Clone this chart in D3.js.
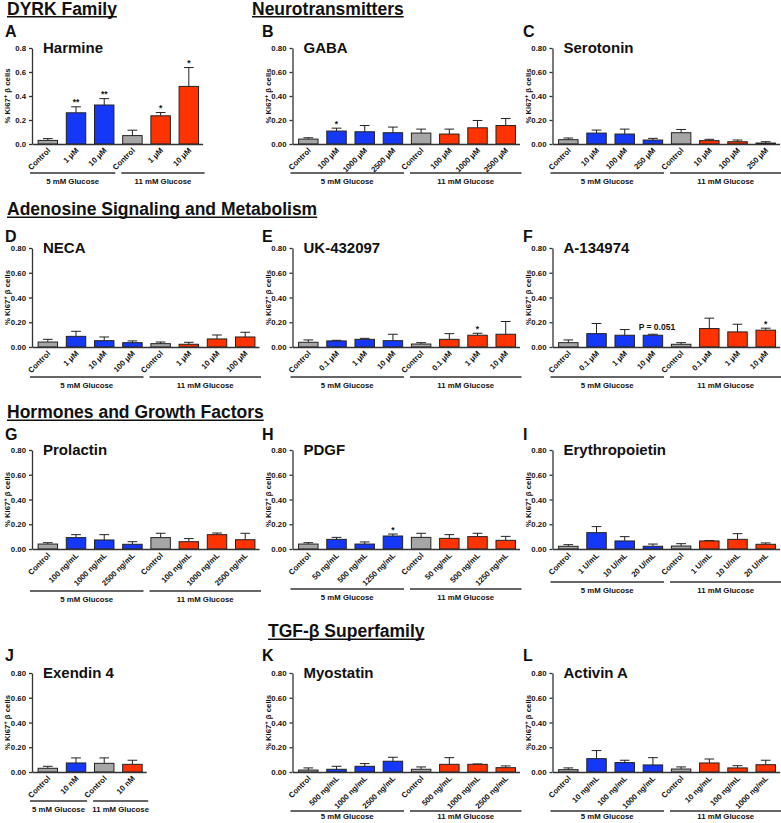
<!DOCTYPE html>
<html><head><meta charset="utf-8">
<script src="https://cdn.jsdelivr.net/npm/d3@7"></script>
<style>
body{margin:0;background:#fff}
svg text{font-family:"Liberation Sans",Arial,sans-serif;font-weight:bold;fill:#111}
</style>
</head><body>
<svg id="chart" width="781" height="823"></svg>
<script>
// ---------------- DATA ----------------
const sectionTitles = ["DYRK Family", "Neurotransmitters", "Adenosine Signaling and Metabolism", "Hormones and Growth Factors", "TGF-β Superfamily"];
const panelLetters = ["A","B","C","D","E","F","G","H","I","J","K","L"];
const panelTitles = ["Harmine","GABA","Serotonin","NECA","UK-432097","A-134974","Prolactin","PDGF","Erythropoietin","Exendin 4","Myostatin","Activin A"];
const groupNames = ["5 mM Glucose", "11 mM Glucose"];
const yTickValues = [0, 0.2, 0.4, 0.6, 0.8];
const yAxisTitle = "% Ki67";

const labelsA = ["Control","1 μM","10 μM","Control","1 μM","10 μM"];
const meansA  = [0.030,0.260,0.325,0.070,0.235,0.480];
const errA    = [0.015,0.050,0.053,0.045,0.027,0.157];
const sigA    = ["","**","**","","*","*"];

const labelsB = ["Control","100 μM","1000 μM","2500 μM","Control","100 μM","1000 μM","2500 μM"];
const meansB  = [0.041,0.108,0.102,0.094,0.091,0.083,0.135,0.154];
const errB    = [0.011,0.024,0.052,0.047,0.033,0.041,0.061,0.058];
const sigB    = ["","*","","","","","",""];

const labelsC = ["Control","10 μM","100 μM","250 μM","Control","10 μM","100 μM","250 μM"];
const meansC  = [0.036,0.091,0.083,0.033,0.094,0.028,0.019,0.008];
const errC    = [0.014,0.025,0.041,0.014,0.027,0.011,0.014,0.011];
const sigC    = ["","","","","","","",""];

const labelsD = ["Control","1 μM","10 μM","100 μM","Control","1 μM","10 μM","100 μM"];
const meansD  = [0.040,0.086,0.051,0.035,0.027,0.022,0.065,0.081];
const errD    = [0.022,0.041,0.030,0.014,0.013,0.016,0.032,0.038];
const sigD    = ["","","","","","","",""];

const labelsE = ["Control","0.1 μM","1 μM","10 μM","Control","0.1 μM","1 μM","10 μM"];
const meansE  = [0.038,0.049,0.062,0.051,0.024,0.062,0.095,0.103];
const errE    = [0.019,0.005,0.008,0.052,0.011,0.046,0.016,0.103];
const sigE    = ["","","","","","","*",""];

const labelsF = ["Control","0.1 μM","1 μM","10 μM","Control","0.1 μM","1 μM","10 μM"];
const meansF  = [0.035,0.108,0.095,0.095,0.022,0.149,0.122,0.136];
const errF    = [0.022,0.082,0.046,0.008,0.013,0.084,0.062,0.016];
const sigF    = ["","","","P = 0.051","","","","*"];

const labelsG = ["Control","100 ng/mL","1000 ng/mL","2500 ng/mL","Control","100 ng/mL","1000 ng/mL","2500 ng/mL"];
const meansG  = [0.040,0.092,0.073,0.038,0.092,0.059,0.116,0.075];
const errG    = [0.011,0.024,0.043,0.021,0.035,0.025,0.013,0.052];
const sigG    = ["","","","","","","",""];

const labelsH = ["Control","50 ng/mL","500 ng/mL","1250 ng/mL","Control","50 ng/mL","500 ng/mL","1250 ng/mL"];
const meansH  = [0.040,0.078,0.040,0.105,0.094,0.086,0.100,0.070];
const errH    = [0.011,0.016,0.017,0.016,0.033,0.030,0.027,0.032];
const sigH    = ["","","","*","","","",""];

const labelsI = ["Control","1 U/mL","10 U/mL","20 U/mL","Control","1 U/mL","10 U/mL","20 U/mL"];
const meansI  = [0.022,0.132,0.065,0.022,0.024,0.065,0.078,0.038];
const errI    = [0.013,0.049,0.035,0.018,0.019,0.003,0.046,0.011];
const sigI    = ["","","","","","","",""];

const labelsJ = ["Control","10 nM","Control","10 nM"];
const meansJ  = [0.030,0.073,0.070,0.062];
const errJ    = [0.016,0.041,0.044,0.033];
const sigJ    = ["","","",""];

const labelsK = ["Control","500 ng/mL","1000 ng/mL","2500 ng/mL","Control","500 ng/mL","1000 ng/mL","2500 ng/mL"];
const meansK  = [0.016,0.022,0.046,0.087,0.022,0.062,0.062,0.035];
const errK    = [0.017,0.024,0.022,0.032,0.019,0.054,0.003,0.014];
const sigK    = ["","","","","","","",""];

const labelsL = ["Control","10 ng/mL","100 ng/mL","1000 ng/mL","Control","10 ng/mL","100 ng/mL","1000 ng/mL"];
const meansL  = [0.019,0.108,0.076,0.057,0.024,0.073,0.033,0.059];
const errL    = [0.014,0.065,0.019,0.059,0.017,0.032,0.018,0.036];
const sigL    = ["","","","","","","",""];

// table built from the arrays above
const panels = [
  [labelsA, meansA, errA, sigA], [labelsB, meansB, errB, sigB], [labelsC, meansC, errC, sigC],
  [labelsD, meansD, errD, sigD], [labelsE, meansE, errE, sigE], [labelsF, meansF, errF, sigF],
  [labelsG, meansG, errG, sigG], [labelsH, meansH, errH, sigH], [labelsI, meansI, errI, sigI],
  [labelsJ, meansJ, errJ, sigJ], [labelsK, meansK, errK, sigK], [labelsL, meansL, errL, sigL]
].map((p, i) => ({labels: p[0], means: p[1], errs: p[2], sig: p[3], title: panelTitles[i], letter: panelLetters[i]}));

// ---------------- LAYOUT ----------------
const colX = [32, 292.5, 552.5];
const rowTop = [48, 248, 450, 673];
const rowBottom = [144, 347, 549, 772];
const letterY = [37, 242, 440, 661];
const letterX = [5, 262, 523];
const groupLineOffset = [29,29,29,30,30,30,42,40,33,29,39,39];
const sectionPos = [[7,14.5],[252,14.5],[7,215],[7,418],[268,637]];
const step = 28.2;
const colors = {control: "#a6a6a6", low: "#1438f5", high: "#ff3300"};

const svg = d3.select("#chart");

// section titles (underlined)
sectionTitles.forEach((t, i) => {
  const [x, y] = sectionPos[i];
  const txt = svg.append("text").attr("x", x).attr("y", y)
    .attr("font-size", 17.5).text(t);
  const w = txt.node().getComputedTextLength();
  svg.append("line").attr("x1", x).attr("x2", x + w)
    .attr("y1", y + 2.3).attr("y2", y + 2.3)
    .attr("stroke", "#111").attr("stroke-width", 1.6);
});

panels.forEach((p, i) => {
  const row = Math.floor(i / 3), col = i % 3;
  const n = p.labels.length;
  const x0 = colX[col];
  const W = step * (n + 0.05);
  const x = d3.scaleBand().domain(d3.range(n)).range([x0, x0 + W])
    .paddingInner(0.31).paddingOuter(0.18).align(0.6);
  const y = d3.scaleLinear().domain([0, 0.8]).range([rowBottom[row], rowTop[row]]);
  const g = svg.append("g");
  const bw = x.bandwidth();
  const half = n / 2;

  // letter and title
  g.append("text").attr("x", letterX[col]).attr("y", letterY[row])
    .attr("font-size", 16).text(p.letter);
  g.append("text").attr("x", x0 + 11).attr("y", rowTop[row] + 4.5)
    .attr("font-size", 15).text(p.title);

  // y-axis
  const yAxis = g.append("g").attr("transform", `translate(${x0},0)`)
    .call(d3.axisLeft(y).tickValues(yTickValues).tickSize(3).tickSizeOuter(0)
      .tickFormat(d3.format(i === 0 ? ".1f" : ".2f")));
  yAxis.attr("font-family", null);
  yAxis.selectAll("path,line").attr("stroke", "#333").attr("stroke-width", 1.3);
  yAxis.selectAll("text").attr("font-size", 7.8).attr("fill", "#111");

  // y-axis title
  const ty = g.append("text")
    .attr("transform", `translate(${x0 - 22},${(rowTop[row] + rowBottom[row]) / 2}) rotate(-90)`)
    .attr("text-anchor", "middle").attr("font-size", 7.8);
  ty.append("tspan").text(yAxisTitle);
  ty.append("tspan").attr("dy", -3).attr("font-size", 5.5).text("+");
  ty.append("tspan").attr("dy", 3).text(" β cells");

  // bars
  const idx = d3.range(n);
  const fill = k => p.labels[k] === "Control" ? colors.control : (k < half ? colors.low : colors.high);
  g.selectAll(".eb").data(idx).join("line")
    .attr("x1", k => x(k) + bw / 2).attr("x2", k => x(k) + bw / 2)
    .attr("y1", k => y(p.means[k])).attr("y2", k => y(p.means[k] + p.errs[k]))
    .attr("stroke", "#222").attr("stroke-width", 1);
  g.selectAll(".cap").data(idx).join("line")
    .attr("x1", k => x(k) + bw / 4).attr("x2", k => x(k) + 3 * bw / 4)
    .attr("y1", k => y(p.means[k] + p.errs[k])).attr("y2", k => y(p.means[k] + p.errs[k]))
    .attr("stroke", "#222").attr("stroke-width", 1);
  g.selectAll(".bar").data(idx).join("rect")
    .attr("x", k => x(k)).attr("width", bw)
    .attr("y", k => y(p.means[k])).attr("height", k => y(0) - y(p.means[k]))
    .attr("fill", fill).attr("stroke", "#222").attr("stroke-width", 1);

  // significance marks
  g.selectAll(".sig").data(idx.filter(k => p.sig[k])).join("text")
    .attr("x", k => x(k) + bw / 2 + (p.sig[k].length > 2 ? 4 : 0))
    .attr("y", k => y(p.means[k] + p.errs[k]) - (p.sig[k].length > 2 ? 4 : 1.5))
    .attr("text-anchor", "middle").attr("font-size", 8.5)
    .text(k => p.sig[k]);

  // x-axis
  const xAxis = g.append("g").attr("transform", `translate(0,${y(0)})`)
    .call(d3.axisBottom(x).tickSize(0).tickSizeOuter(0).tickFormat(k => p.labels[k]));
  xAxis.attr("font-family", null);
  xAxis.select("path").attr("stroke", "#333").attr("stroke-width", 1.5);
  xAxis.selectAll("text").attr("font-size", 7.8).attr("fill", "#111")
    .attr("text-anchor", "end").attr("x", 0).attr("y", 0).attr("dy", 0)
    .attr("transform", "translate(3,7) rotate(-45)");

  // glucose groups
  const mid = (x(half - 1) + bw + x(half)) / 2;
  const ly = y(0) + groupLineOffset[i];
  const spans = [[x0 - 2, mid - 3], [mid + 3, x0 + W + 2]];
  spans.forEach((s, j) => {
    g.append("line").attr("x1", s[0]).attr("x2", s[1]).attr("y1", ly).attr("y2", ly)
      .attr("stroke", "#333").attr("stroke-width", 1.4);
    g.append("text").attr("x", (s[0] + s[1]) / 2).attr("y", Math.min(ly + 11, 819))
      .attr("text-anchor", "middle").attr("font-size", 7.8).text(groupNames[j]);
  });
});
</script>
</body></html>
